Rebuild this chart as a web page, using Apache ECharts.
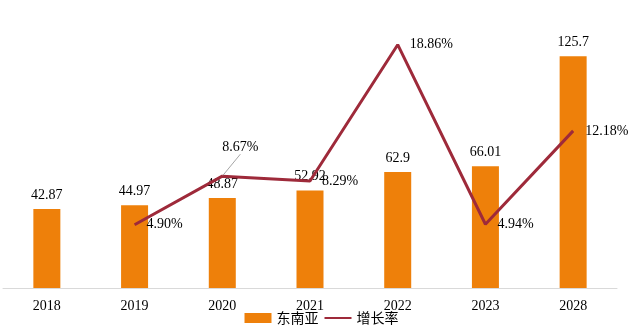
<!DOCTYPE html>
<html>
<head>
<meta charset="utf-8">
<script src="https://cdn.jsdelivr.net/npm/echarts@6/dist/echarts.min.js"></script>
<style>
html,body{margin:0;padding:0;background:#fff;}
#chart{width:643px;height:330px;}
</style>
</head>
<body>
<div id="chart"></div>
<script>
// Market size by year and year-on-year growth rate
const years = ['2018', '2019', '2020', '2021', '2022', '2023', '2028'];
const marketSize = [42.87, 44.97, 48.87, 52.92, 62.9, 66.01, 125.7];
const growthRate = [null, 4.90, 8.67, 8.29, 18.86, 4.94, 12.18];
const seriesNames = ['东南亚', '增长率'];

const serif = '"Liberation Serif", "Times New Roman", serif';
const chart = echarts.init(document.getElementById('chart'));

// the 2020 growth label sits above the line and is tied back to its point
const calloutIndex = 2;
const growthData = growthRate.map((v, i) => i === calloutIndex
  ? { value: v, labelLine: { show: true } }
  : v);

chart.setOption({
  animation: false,
  backgroundColor: '#ffffff',
  grid: { left: 3, right: 26, top: 30, bottom: 42, containLabel: false },
  legend: {
    bottom: 0,
    left: 'center',
    itemGap: 5,
    itemWidth: 27,
    itemHeight: 10,
    textStyle: { fontFamily: '"Noto Sans CJK SC", sans-serif', fontSize: 14, color: '#000' },
    data: [
      { name: seriesNames[0], icon: 'rect' },
      { name: seriesNames[1] }
    ]
  },
  xAxis: {
    type: 'category',
    data: years,
    axisLine: { lineStyle: { color: '#d9d9d9', width: 1 } },
    axisTick: { show: false },
    axisLabel: { color: '#000', fontFamily: serif, fontSize: 14, margin: 11 }
  },
  yAxis: [
    { type: 'value', min: 0, max: 140, show: false, splitLine: { show: false } },
    { type: 'value', min: 0, max: 20, show: false, splitLine: { show: false } }
  ],
  series: [
    {
      name: seriesNames[0],
      type: 'bar',
      data: marketSize,
      barWidth: 27,
      itemStyle: { color: '#EE800A' },
      label: {
        show: true,
        position: 'top',
        distance: 7,
        color: '#000',
        fontFamily: serif,
        fontSize: 14
      }
    },
    {
      name: seriesNames[1],
      type: 'line',
      yAxisIndex: 1,
      data: growthData,
      symbol: 'circle',
      symbolSize: 2,
      showSymbol: true,
      lineStyle: { color: '#9E2A3A', width: 3 },
      itemStyle: { color: 'rgba(0,0,0,0)' },
      z: 5,
      label: {
        show: true,
        position: 'right',
        distance: 11,
        color: '#000',
        fontFamily: serif,
        fontSize: 14,
        formatter: p => p.value.toFixed(2) + '%'
      },
      labelLayout: function (p) {
        if (p.dataIndex === calloutIndex) {
          return { dx: -12, dy: -29 };
        }
        return {};
      },
      labelLine: {
        show: false,
        length2: 0,
        lineStyle: { color: '#a6a6a6', width: 1 }
      }
    }
  ]
});
</script>
</body>
</html>
